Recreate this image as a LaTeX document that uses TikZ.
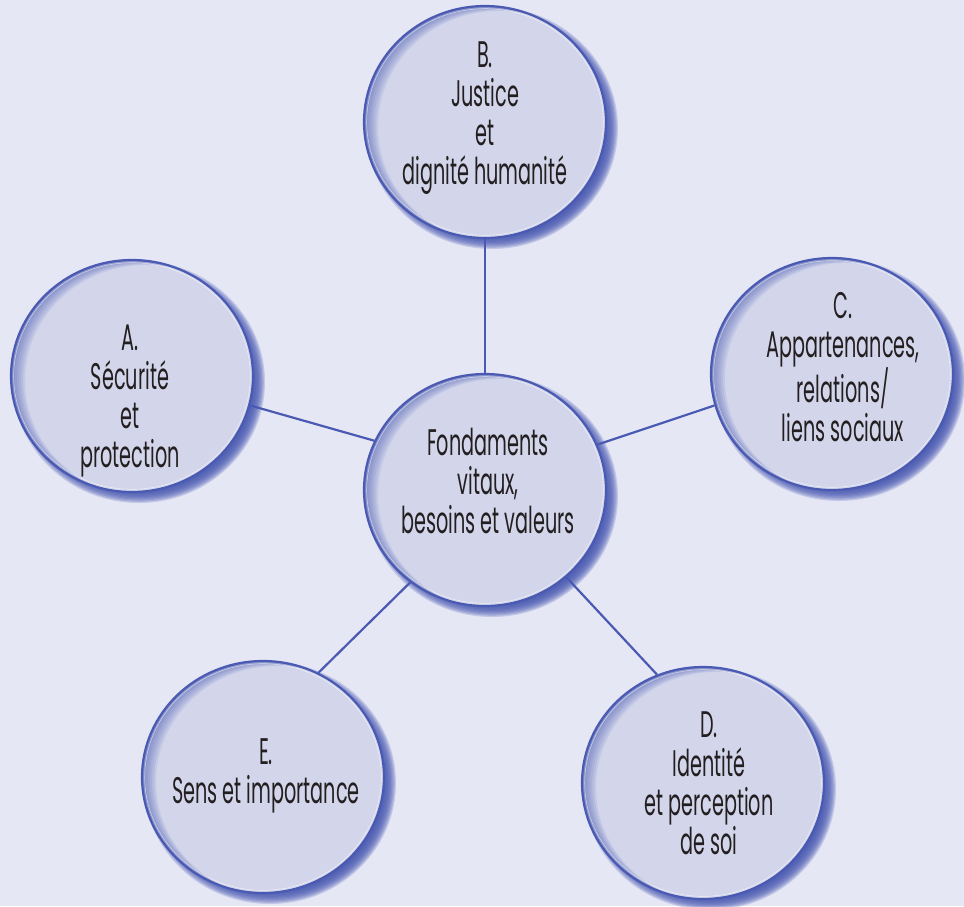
\documentclass[tikz,border=0pt]{standalone}
\usepackage{fontspec}
\setmainfont{Poppins}[FakeStretch=0.52]
\usetikzlibrary{shapes.geometric}
\definecolor{bgc}{RGB}{230,231,245}
\definecolor{fillc}{RGB}{211,214,235}
\definecolor{bluec}{RGB}{74,90,178}
\definecolor{txtc}{RGB}{35,31,32}
\tikzset{
  bubble/.style={ellipse, minimum width=242pt, minimum height=232pt, inner sep=0pt,
    fill=fillc, draw=bluec, line width=2.2pt},
  bubbletext/.style={text=txtc, align=center, inner sep=0pt,
    font=\fontsize{37}{39}\selectfont},
  link/.style={draw=bluec, line width=2.2pt}
}
\newcommand\mybubble[3]{%
  \foreach \i in {0,...,10}{\fill[bluec,opacity=0.22] ({#2+7},{#3+6}) ellipse [x radius={114+\i*1.2}, y radius={109+\i*1.2}];}
  \node[bubble] (#1) at (#2,#3) {};
  \begin{scope}
    \clip (#2,#3) ellipse [x radius=121, y radius=116];
    \foreach \d in {2,4,...,14}{\fill[bluec,opacity=0.11,even odd rule] ({#2-150},{#3-150}) rectangle ({#2+150},{#3+150}) ({#2+\d},{#3+\d*0.35}) ellipse [x radius=121, y radius=116];}
  \end{scope}
  \draw[white,opacity=0.6,line width=0.5pt] (#2,#3) ellipse [x radius=118.3, y radius=113.3];
}
\begin{document}
\begin{tikzpicture}[x=1pt,y=-1pt]
  \fill[bgc] (0,0) rectangle (964,906);
  \useasboundingbox (0,0) rectangle (964,906);

  \mybubble{B}{485}{122}
  \mybubble{A}{132}{376}
  \mybubble{C}{832}{374}
  \mybubble{M}{485}{490}
  \mybubble{D}{703}{783}
  \mybubble{E}{263}{777}

  \node[bubbletext] (Bt) at (485,118) {B.\\Justice\\et\\dignité humanité};
  \node[bubbletext] (At) at (130,401) {A.\\Sécurité\\et\\protection};
  \node[bubbletext] (Ct) at (843,367) {C.\\Appartenances,\\relations/\\liens sociaux};
  \node[bubbletext] (Mt) at (488,481) {Fondaments\\vitaux,\\besoins et valeurs};
  \node[bubbletext] (Dt) at (709,783) {D.\\Identité\\et perception\\de soi};
  \node[bubbletext] (Et) at (266,776) {E.\\Sens et importance};

  \draw[link] (M.90) -- (B.270);
  \draw[link] (M.156) -- (A.-14);
  \draw[link] (M.22) -- (C.195);
  \draw[link] (M.231) -- (E.62);
  \draw[link] (M.-47) -- (D.113);
\end{tikzpicture}
\end{document}
